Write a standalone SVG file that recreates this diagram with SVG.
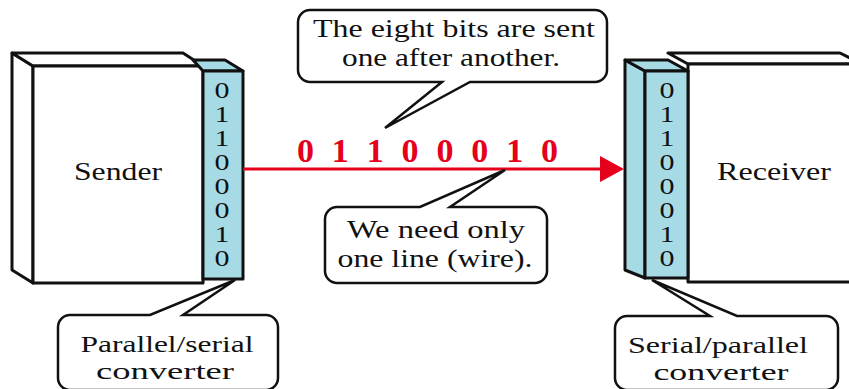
<svg xmlns="http://www.w3.org/2000/svg" width="849" height="389" viewBox="0 0 849 389">
  <style>
    .box { fill: #ffffff; stroke: #111111; stroke-width: 3; stroke-linejoin: round; }
    .conv { fill: #a6dbe6; stroke: #111111; stroke-width: 3; stroke-linejoin: round; }
    .bubble { fill: #ffffff; stroke: #111111; stroke-width: 2.5; stroke-linejoin: miter; }
    text { font-family: "Times New Roman", "Liberation Serif", Times, serif; }
    .lbl { font-size: 26px; fill: #111111; text-anchor: middle; }
    .small { font-size: 24px; }
    .bit { font-size: 24px; fill: #111111; text-anchor: middle; }
    .red { font-size: 34px; font-weight: bold; fill: #e5001b; }
    .wire { stroke: #e5001b; stroke-width: 3; fill: none; }
  </style>

  <!-- Sender with its parallel/serial converter -->
  <g id="sender">
    <polygon class="box" points="12,53 33,66 33,283 12,270"/>
    <polygon class="box" points="12,53 183,53 203,66 33,66"/>
    <rect class="box" x="33" y="66" width="170" height="217"/>
    <text class="lbl" x="118" y="180" textLength="88" lengthAdjust="spacingAndGlyphs">Sender</text>
  </g>
  <g id="ps-converter">
    <polygon class="conv" points="193,60 225,60 243,71 203,71"/>
    <rect class="conv" x="203" y="71" width="40" height="208"/>
    <g class="bit">
      <text x="222" y="98" textLength="15" lengthAdjust="spacingAndGlyphs">0</text>
      <text x="222" y="122" textLength="15" lengthAdjust="spacingAndGlyphs">1</text>
      <text x="222" y="146" textLength="15" lengthAdjust="spacingAndGlyphs">1</text>
      <text x="222" y="170" textLength="15" lengthAdjust="spacingAndGlyphs">0</text>
      <text x="222" y="194" textLength="15" lengthAdjust="spacingAndGlyphs">0</text>
      <text x="222" y="218" textLength="15" lengthAdjust="spacingAndGlyphs">0</text>
      <text x="222" y="242" textLength="15" lengthAdjust="spacingAndGlyphs">1</text>
      <text x="222" y="266" textLength="15" lengthAdjust="spacingAndGlyphs">0</text>
    </g>
  </g>

  <!-- Receiver with its serial/parallel converter -->
  <g id="receiver">
    <polygon class="box" points="668,53 840,53 862,64 688,64"/>
    <rect class="box" x="688" y="64" width="175" height="218"/>
    <text class="lbl" x="774" y="180" textLength="114" lengthAdjust="spacingAndGlyphs">Receiver</text>
  </g>
  <g id="sp-converter">
    <polygon class="conv" points="625,60 645,71 645,278 625,270"/>
    <polygon class="conv" points="625,60 668,60 688,71 645,71"/>
    <rect class="conv" x="645" y="71" width="43" height="207"/>
    <g class="bit">
      <text x="667" y="98" textLength="15" lengthAdjust="spacingAndGlyphs">0</text>
      <text x="667" y="122" textLength="15" lengthAdjust="spacingAndGlyphs">1</text>
      <text x="667" y="146" textLength="15" lengthAdjust="spacingAndGlyphs">1</text>
      <text x="667" y="170" textLength="15" lengthAdjust="spacingAndGlyphs">0</text>
      <text x="667" y="194" textLength="15" lengthAdjust="spacingAndGlyphs">0</text>
      <text x="667" y="218" textLength="15" lengthAdjust="spacingAndGlyphs">0</text>
      <text x="667" y="242" textLength="15" lengthAdjust="spacingAndGlyphs">1</text>
      <text x="667" y="266" textLength="15" lengthAdjust="spacingAndGlyphs">0</text>
    </g>
  </g>

  <!-- Serial line carrying the bits -->
  <g id="connectors">
    <line class="wire" x1="243" y1="169" x2="604" y2="169"/>
    <polygon points="600,156 624,169 600,182" fill="#e5001b"/>
    <text class="red" x="297" y="162" textLength="261" lengthAdjust="spacing">0 1 1 0 0 0 1 0</text>
  </g>

  <!-- Callouts -->
  <g id="note-sequence">
    <path class="bubble" d="M310,10 H595 A12,12 0 0 1 607,22 V70 A12,12 0 0 1 595,82 H470 L385,128 L442,82 H310 A12,12 0 0 1 298,70 V22 A12,12 0 0 1 310,10 Z"/>
    <text class="lbl" x="454" y="37" textLength="282" lengthAdjust="spacingAndGlyphs">The eight bits are sent</text>
    <text class="lbl" x="451" y="66" textLength="218" lengthAdjust="spacingAndGlyphs">one after another.</text>
  </g>
  <g id="note-wire">
    <path class="bubble" d="M337,207 H420 L505,170 L450,207 H535 A12,12 0 0 1 547,219 V271 A12,12 0 0 1 535,283 H337 A12,12 0 0 1 325,271 V219 A12,12 0 0 1 337,207 Z"/>
    <text class="lbl" x="436" y="238" textLength="178" lengthAdjust="spacingAndGlyphs">We need only</text>
    <text class="lbl" x="435" y="267" textLength="195" lengthAdjust="spacingAndGlyphs">one line (wire).</text>
  </g>
  <g id="note-ps">
    <path class="bubble" d="M70,315 H150 L235,280 L183,315 H266 A12,12 0 0 1 278,327 V378 A12,12 0 0 1 266,390 H70 A12,12 0 0 1 58,378 V327 A12,12 0 0 1 70,315 Z"/>
    <text class="lbl small" x="167" y="352" textLength="173" lengthAdjust="spacingAndGlyphs">Parallel/serial</text>
    <text class="lbl small" x="165" y="379" textLength="138" lengthAdjust="spacingAndGlyphs">converter</text>
  </g>
  <g id="note-sp">
    <path class="bubble" d="M627,316 H710 L652,280 L737,316 H826 A12,12 0 0 1 838,328 V378 A12,12 0 0 1 826,390 H627 A12,12 0 0 1 615,378 V328 A12,12 0 0 1 627,316 Z"/>
    <text class="lbl small" x="718" y="353" textLength="180" lengthAdjust="spacingAndGlyphs">Serial/parallel</text>
    <text class="lbl small" x="721" y="380" textLength="135" lengthAdjust="spacingAndGlyphs">converter</text>
  </g>
</svg>
